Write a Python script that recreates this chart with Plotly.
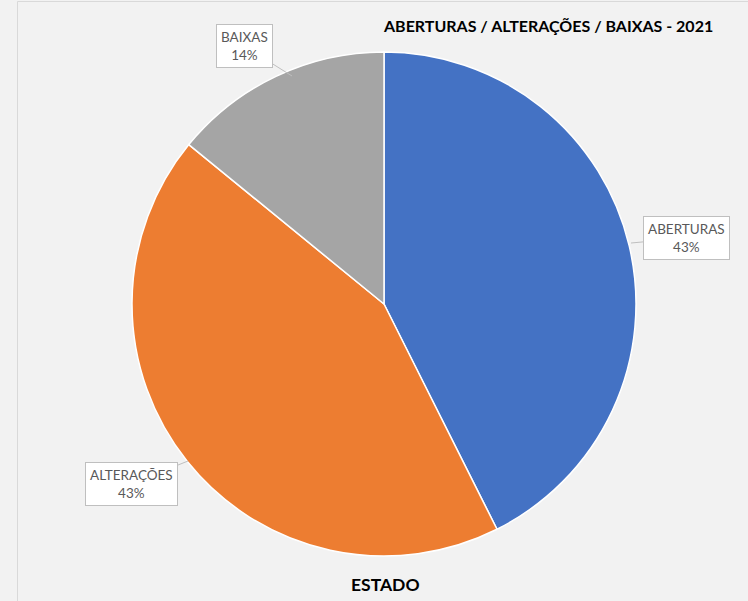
import plotly.graph_objects as go

# data (shares of the total)
categories = ["ABERTURAS", "ALTERAÇÕES", "BAIXAS"]
values = [42.6, 43.3, 14.1]
colors = ["#4472c4", "#ed7d31", "#a5a5a5"]

W, H = 748, 601
FONT = "Lato"

total = sum(values)
pct = [f"{round(v / total * 100)}%" for v in values]

fig = go.Figure(
    go.Pie(
        labels=categories,
        values=values,
        sort=False,
        direction="clockwise",
        rotation=0,
        marker={"colors": colors, "line": {"color": "white", "width": 1.5}},
        textinfo="none",
        hoverinfo="label+percent",
        domain={"x": [132 / W, 636 / W], "y": [1 - 556 / H, 1 - 52 / H]},
    )
)

# callout labels: (tip x, tip y, text offset x, text offset y) in pixels
callouts = {
    "ABERTURAS": (631, 243, 55, -5),
    "ALTERAÇÕES": (188, 461, -57, 23),
    "BAIXAS": (292, 76, -48, -30),
}
for cat, p in zip(categories, pct):
    tx, ty, ax, ay = callouts[cat]
    fig.add_annotation(
        x=tx / W,
        y=1 - ty / H,
        xref="paper",
        yref="paper",
        ax=ax,
        ay=ay,
        text=f"{cat}<br>{p}",
        showarrow=True,
        arrowhead=0,
        arrowwidth=1,
        arrowcolor="#bfbfbf",
        bgcolor="white",
        bordercolor="#bfbfbf",
        borderwidth=1,
        borderpad=4,
        font={"family": FONT, "size": 13.5, "color": "#595959"},
        align="center",
    )

fig.add_annotation(
    x=715 / W,
    y=1 - 26 / H,
    xref="paper",
    yref="paper",
    xanchor="right",
    yanchor="middle",
    text="<b>ABERTURAS / ALTERAÇÕES / BAIXAS - 2021</b>",
    showarrow=False,
    font={"family": FONT, "size": 16, "color": "black"},
)
fig.add_annotation(
    x=386 / W,
    y=1 - 584 / H,
    xref="paper",
    yref="paper",
    yanchor="middle",
    text="<b>ESTADO</b>",
    showarrow=False,
    font={"family": FONT, "size": 17.5, "color": "black"},
)

# chart area border
fig.add_shape(
    type="rect",
    xref="paper",
    yref="paper",
    x0=17.5 / W,
    x1=1.05,
    y0=-0.05,
    y1=1 - 1.5 / H,
    line={"color": "#d9d9d9", "width": 1},
    layer="below",
)

fig.update_layout(
    width=W,
    height=H,
    margin={"t": 0, "b": 0, "l": 0, "r": 0, "pad": 0},
    paper_bgcolor="#f2f2f2",
    plot_bgcolor="#f2f2f2",
    showlegend=False,
)

# drop the default page margin so the figure sits at the window's corner
fig.write_html(
    "out.html",
    config={"displayModeBar": False},
    post_script="document.body.style.margin='0';document.body.style.background='#f2f2f2';",
)
